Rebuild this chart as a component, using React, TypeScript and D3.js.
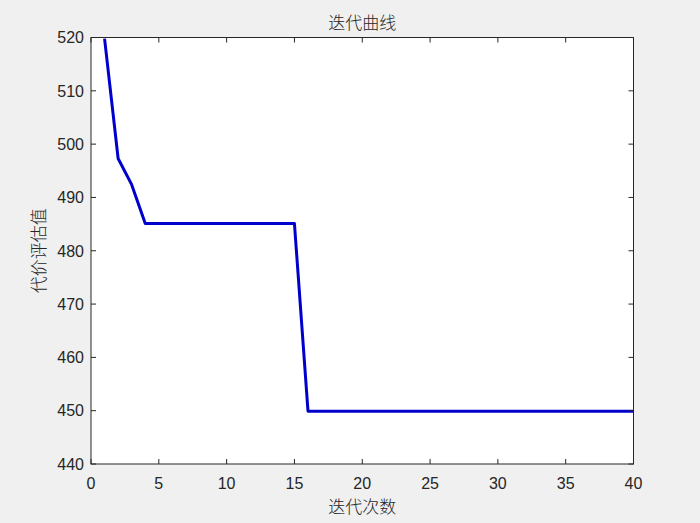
import React from "react";
import * as d3 from "d3";

const iterations = Array.from({ length: 40 }, (_, i) => i + 1);
const costValues = [
  519.8, 497.3, 492.4, 485.1, 485.1, 485.1, 485.1, 485.1, 485.1, 485.1,
  485.1, 485.1, 485.1, 485.1, 485.1, 449.9, 449.9, 449.9, 449.9, 449.9,
  449.9, 449.9, 449.9, 449.9, 449.9, 449.9, 449.9, 449.9, 449.9, 449.9,
  449.9, 449.9, 449.9, 449.9, 449.9, 449.9, 449.9, 449.9, 449.9, 449.9,
];
const xTicks = [0, 5, 10, 15, 20, 25, 30, 35, 40];
const yTicks = [440, 450, 460, 470, 480, 490, 500, 510, 520];
const titleText = "迭代曲线";
const xLabelText = "迭代次数";
const yLabelText = "代价评估值";

const W = 700;
const H = 523;
const L = 91;
const R = 633.5;
const T = 37.5;
const B = 464;
const axisColor = "#262626";
const cjk = "'Noto Sans CJK SC', sans-serif";
const num = "'Liberation Sans', Arial, sans-serif";

export default function App() {
  const x = d3.scaleLinear().domain([0, 40]).range([L, R]);
  const y = d3.scaleLinear().domain([440, 520]).range([B, T]);
  const line = d3
    .line<number>()
    .x((_, i) => x(iterations[i]))
    .y((d) => y(d));
  const tl = 5;
  return (
    <svg
      width={W}
      height={H}
      style={{ position: "absolute", left: 0, top: 0, background: "#f0f0f0" }}
    >
      <rect x={0} y={0} width={W} height={H} fill="#f0f0f0" />
      <rect x={L} y={T} width={R - L} height={B - T} fill="#ffffff" />
      <defs>
        <clipPath id="plotclip">
          <rect x={L} y={T} width={R - L} height={B - T} />
        </clipPath>
      </defs>
      <path
        d={line(costValues) || ""}
        fill="none"
        stroke="#0000cd"
        strokeWidth={3}
        strokeLinejoin="round"
        clipPath="url(#plotclip)"
      />
      <rect
        x={L}
        y={T}
        width={R - L}
        height={B - T}
        fill="none"
        stroke={axisColor}
        strokeWidth={1}
      />
      {xTicks.map((t) => (
        <g key={"x" + t}>
          <line x1={x(t)} x2={x(t)} y1={B} y2={B - tl} stroke={axisColor} />
          <line x1={x(t)} x2={x(t)} y1={T} y2={T + tl} stroke={axisColor} />
          <text
            x={x(t)}
            y={489}
            textAnchor="middle"
            fontFamily={num}
            fontSize={16}
            fill={axisColor}
          >
            {t}
          </text>
        </g>
      ))}
      {yTicks.map((t) => (
        <g key={"y" + t}>
          <line x1={L} x2={L + tl} y1={y(t)} y2={y(t)} stroke={axisColor} />
          <line x1={R} x2={R - tl} y1={y(t)} y2={y(t)} stroke={axisColor} />
          <text
            x={84}
            y={y(t) + 5.8}
            textAnchor="end"
            fontFamily={num}
            fontSize={16}
            fill={axisColor}
          >
            {t}
          </text>
        </g>
      ))}
      <text
        x={(L + R) / 2}
        y={29}
        textAnchor="middle"
        fontFamily={cjk}
        fontSize={17}
        fontWeight={300}
        fill={axisColor}
      >
        {titleText}
      </text>
      <text
        x={(L + R) / 2}
        y={513}
        textAnchor="middle"
        fontFamily={cjk}
        fontSize={17}
        fontWeight={300}
        fill={axisColor}
      >
        {xLabelText}
      </text>
      <text
        transform={`translate(45, ${(T + B) / 2}) rotate(-90)`}
        textAnchor="middle"
        fontFamily={cjk}
        fontSize={17}
        fontWeight={300}
        fill={axisColor}
      >
        {yLabelText}
      </text>
    </svg>
  );
}
